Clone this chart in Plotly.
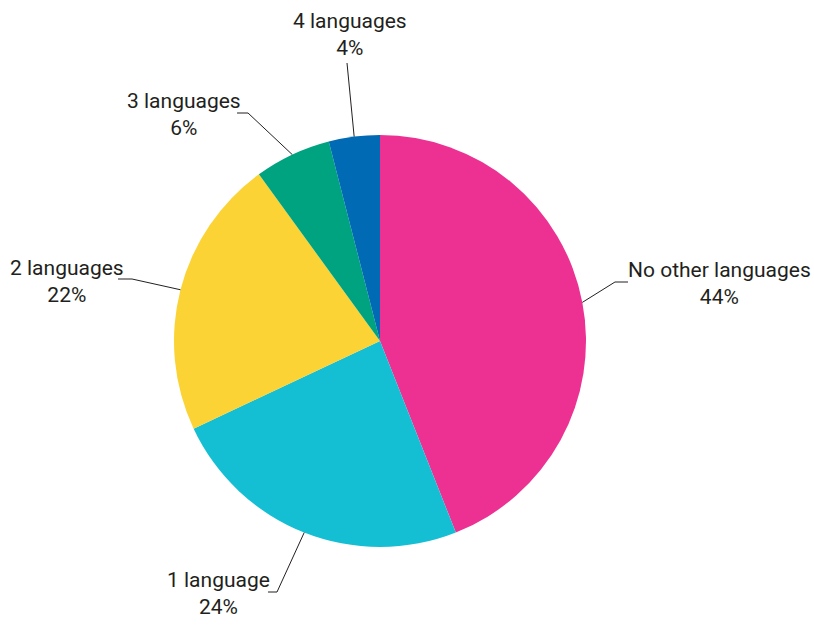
import math
import plotly.graph_objects as go

labels = ['No other languages', '1 language', '2 languages', '3 languages', '4 languages']
values = [44, 24, 22, 6, 4]
colors = ['#EC3193', '#14BED3', '#FBD334', '#00A37F', '#006AB5']

W, H = 814, 625
CX, CY, R = 380, 341, 206

# where each label block sits, and the bend/end of its leader line (pixels)
label_pos = [(719, 283), (219, 593), (67, 281), (184, 114), (350, 34)]
leader_bend = [[(615, 282), (628, 282)],
               [(277, 592), (268, 592)],
               [(132, 279), (118, 279)],
               [(248, 113), (237, 113)],
               [(347, 63)]]

FONT = 'Roboto, sans-serif'


def px(x, y):
    return x / W, 1 - y / H


fig = go.Figure(go.Pie(labels=labels,
                       values=values,
                       sort=False,
                       direction='clockwise',
                       rotation=0,
                       marker=dict(colors=colors),
                       textinfo='none',
                       hoverinfo='skip',
                       showlegend=False,
                       domain=dict(x=[(CX - R) / W, (CX + R) / W],
                                   y=[1 - (CY + R) / H, 1 - (CY - R) / H])))

total = sum(values)
cum = 0
for lab, v, pos, bend in zip(labels, values, label_pos, leader_bend):
    mid = (cum + v / 2) / total * 2 * math.pi
    cum += v
    pts = [(CX + R * math.sin(mid), CY - R * math.cos(mid))] + bend
    path = 'M ' + ' L '.join('%.4f,%.4f' % px(*p) for p in pts)
    fig.add_shape(type='path', path=path, xref='paper', yref='paper',
                  line=dict(color='#231F20', width=1))
    x, y = px(*pos)
    fig.add_annotation(x=x, y=y, xref='paper', yref='paper',
                       text=f'{lab}<br>{v}%', showarrow=False,
                       xanchor='center', yanchor='middle',
                       font=dict(family=FONT, size=21, color='#231F20'))

fig.update_layout(width=W, height=H,
                  margin=dict(l=0, r=0, t=0, b=0),
                  paper_bgcolor='white', plot_bgcolor='white')

fig.write_html('out.html', config={'displayModeBar': False},
               post_script="document.body.style.margin='0';")
